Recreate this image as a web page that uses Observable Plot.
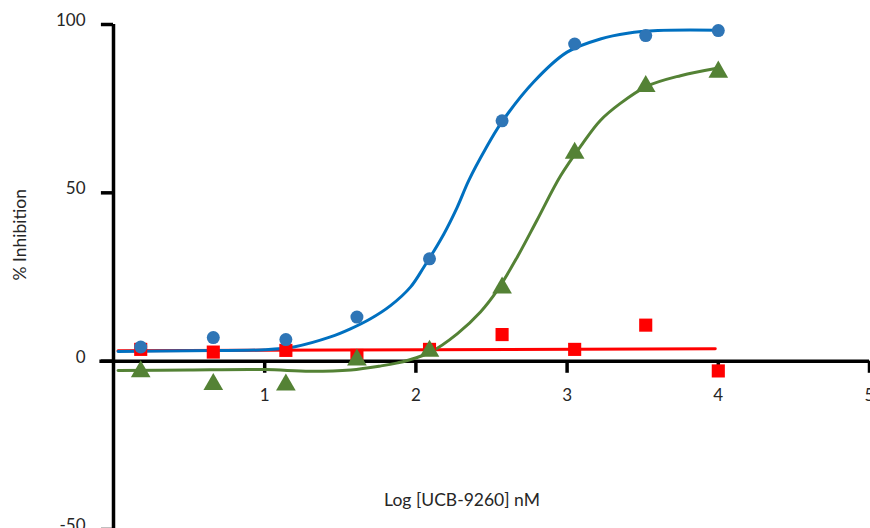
<!DOCTYPE html>
<html>
<head>
<meta charset="utf-8">
<script src="https://cdn.jsdelivr.net/npm/d3@7"></script>
<script src="https://cdn.jsdelivr.net/npm/@observablehq/plot@0.6"></script>
<style>
  html, body { margin: 0; padding: 0; background: white; }
</style>
</head>
<body>
<div id="chart"></div>
<script>
// Log concentrations (x) of measured points
const logConc = [0.18, 0.66, 1.14, 1.61, 2.09, 2.57, 3.05, 3.52, 4.0];
// Measured % inhibition for each series
const blueValues  = [4.2, 7.0, 6.4, 13.1, 30.4, 71.4, 94.2, 96.7, 98.2];
const redValues   = [3.5, 2.7, 3.2, 1.7, 3.5, 7.9, 3.5, 10.7, -2.9];
const greenValues = [-3.1, -6.9, -7.0, 0.4, 3.0, 21.8, 61.8, 81.6, 85.9];

// Fitted curves
const blueFitX = [0.03, 0.5, 1.0, 1.2, 1.435, 1.567, 1.70, 1.832, 1.964, 2.052, 2.185, 2.273, 2.35, 2.46, 2.56, 2.78, 3.0, 3.22, 3.4, 3.6, 4.0];
const blueFitY = [2.9, 3.1, 3.4, 4.3, 7.2, 9.6, 12.6, 16.5, 22.0, 27.9, 37.8, 45.7, 53.7, 63.0, 70.5, 83.0, 91.8, 95.7, 97.4, 98.2, 98.3];
const redFitX  = [0.03, 3.98];
const redFitY  = [3.1, 3.7];
const greenFitX = [0.03, 0.5, 1.0, 1.3, 1.57, 1.77, 1.88, 1.942, 2.097, 2.273, 2.427, 2.538, 2.67, 2.80, 2.956, 3.1, 3.22, 3.35, 3.53, 3.75, 4.0];
const greenFitY = [-2.8, -2.6, -2.5, -3.0, -2.6, -1.4, -0.5, 0.2, 2.7, 8.1, 14.6, 21.0, 30.9, 41.8, 55.0, 64.5, 71.5, 76.5, 81.7, 84.8, 87.1];

// Axes
const xTicks = [1, 2, 3, 4, 5];
const yTicks = [-50, 0, 50, 100];
const xTitle = "Log [UCB-9260] nM";
const yTitle = "% Inhibition";

const blueLine = "#0070C0", blueDot = "#2E75B6", red = "#FF0000", green = "#548235";
const textColor = "#262626";

const pts = (xs, ys) => xs.map((x, i) => ({x, y: ys[i]}));

const chart = Plot.plot({
  width: 870,
  height: 528,
  marginLeft: 113,
  marginRight: 1,
  marginTop: 24,
  marginBottom: 0,
  style: {fontFamily: "Lato", fontSize: "17px", color: textColor, background: "white", overflow: "visible"},
  x: {domain: [0, 5], range: [113, 869], axis: null},
  y: {domain: [-50, 100], range: [529, 24], axis: null},
  marks: [
    // axes lines
    Plot.ruleX([0], {y1: -50, y2: 100, stroke: "black", strokeWidth: 3.5}),
    Plot.ruleY([0], {x1: -0.09, x2: 5, stroke: "black", strokeWidth: 3.5}),
    Plot.ruleY(yTicks, {y: d => d, x1: -0.08, x2: 0, stroke: "black", strokeWidth: 3.5}),
    Plot.ruleX(xTicks, {x: d => d, y1: 0, y2: -3.6, stroke: "black", strokeWidth: 3.5}),
    Plot.text(yTicks, {x: 0, y: d => d, text: d => String(d), dx: -28, dy: -4, textAnchor: "end", fill: textColor, fontSize: 17}),
    Plot.text(xTicks, {x: d => d, y: 0, text: d => String(d), dy: 34, fill: textColor, fontSize: 17}),
    Plot.text([xTitle], {frameAnchor: "bottom", text: d => d, dx: -29.5, dy: -23, fill: textColor, fontSize: 17.5}),
    Plot.text([yTitle], {frameAnchor: "left", text: d => d, dx: -93, dy: 4, rotate: -90, fill: textColor, fontSize: 17.5}),
    // fitted curves
    Plot.line(pts(redFitX, redFitY), {x: "x", y: "y", stroke: red, strokeWidth: 3}),
    Plot.line(pts(blueFitX, blueFitY), {x: "x", y: "y", stroke: blueLine, strokeWidth: 3, curve: "catmull-rom"}),
    Plot.line(pts(greenFitX, greenFitY), {x: "x", y: "y", stroke: green, strokeWidth: 3, curve: "catmull-rom"}),
    // measured points
    Plot.dot(pts(logConc, redValues), {x: "x", y: "y", symbol: "square", r: 7.4, fill: red, stroke: "none"}),
    Plot.dot(pts(logConc, blueValues), {x: "x", y: "y", symbol: "circle", r: 6.5, fill: blueDot, stroke: "none"}),
    Plot.dot(pts(logConc, greenValues), {x: "x", y: "y", symbol: "triangle", r: 7.3, fill: green, stroke: "none"})
  ]
});
document.getElementById("chart").appendChild(chart);
</script>
</body>
</html>
